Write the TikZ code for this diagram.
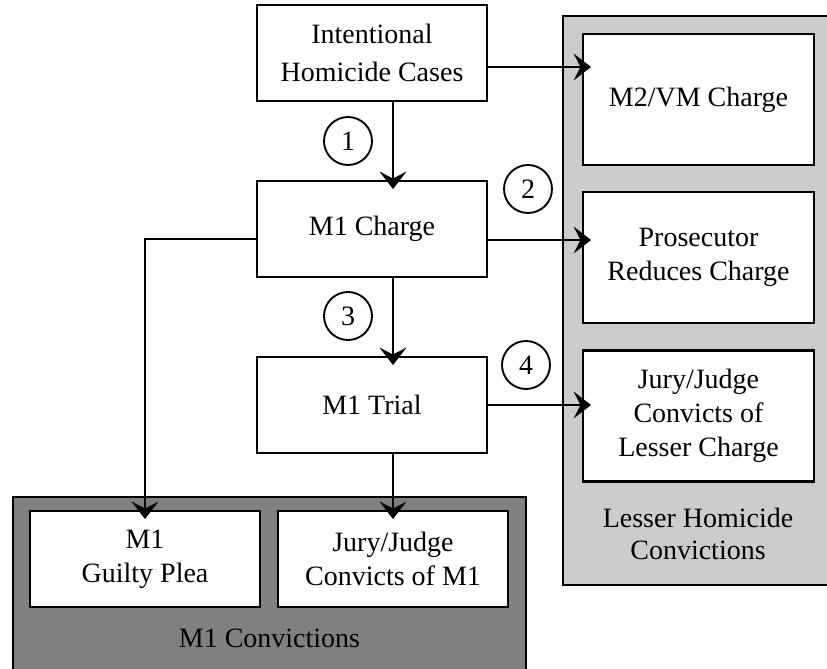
\documentclass[tikz,border=0pt]{standalone}
\usepackage{fontspec}
\setmainfont{LiberationSerif}[Extension=.ttf, UprightFont=*-Regular, BoldFont=*-Bold]
\usetikzlibrary{arrows.meta}
\begin{document}
\begin{tikzpicture}[x=0.75pt,y=-0.75pt,
  box/.style={draw=black, fill=white, line width=1.9pt, align=center,
    font=\fontsize{21}{25.5}\selectfont, inner sep=0pt},
  midbox/.style={box, minimum width=172.5pt, minimum height=72pt},
  sidebox/.style={box, minimum width=173.25pt, minimum height=98.25pt},
  lowbox/.style={box, minimum width=172.5pt, minimum height=72pt},
  numc/.style={draw=black, circle, line width=1.4pt, minimum size=36pt, inner sep=0pt,
    font=\fontsize{21}{25}\selectfont},
  lbl/.style={align=center, font=\fontsize{21}{24.5}\selectfont},
  arr/.style={line width=1.6pt, -{Stealth[length=13pt, width=20pt, inset=5pt]}, shorten >=-7pt},
  ln/.style={line width=1.6pt}
]
\useasboundingbox (0,0) rectangle (827,668);
% panels
\filldraw[fill=black!20, draw=black, line width=1.9pt] (563,16) rectangle (840,585);
\filldraw[fill=black!50, draw=black, line width=1.9pt] (13,497) rectangle (526,690);
% main column
\node[midbox, font=\fontsize{21}{28}\selectfont] (ihc) at (372,53) {Intentional\\Homicide Cases};
\node[midbox] (chg) at (372,229) {M1 Charge};
\node[midbox] (tri) at (372,405) {M1 Trial};
% right column
\node[sidebox] (m2) at (698.5,99.5) {M2/VM Charge};
\node[sidebox] (pro) at (698.5,257.5) {Prosecutor\\Reduces Charge};
\node[sidebox] (jl) at (698.5,416) {Jury/Judge\\Convicts of\\Lesser Charge};
\node[lbl] (lhc) at (698,534) {Lesser Homicide\\Convictions};
% bottom row
\node[lowbox] (gp) at (145,559) {M1\\Guilty Plea};
\node[lowbox] (jm) at (393,559) {Jury/Judge\\Convicts of M1};
\node[lbl] (m1c) at (269.5,638) {M1 Convictions};
% numbers
\node[numc] (n1) at (348,141) {1};
\node[numc] (n2) at (528,189) {2};
\node[numc] (n3) at (348,316) {3};
\node[numc] (n4) at (526,365) {4};
% connectors
\draw[arr] (ihc.east |- 0,67) -- (m2.west |- 0,67);
\draw[arr] (ihc.south -| 393,0) -- (chg.north -| 393,0);
\draw[arr] (chg.east |- 0,240) -- (pro.west |- 0,240);
\draw[arr] (chg.south -| 393,0) -- (tri.north -| 393,0);
\draw[arr] (tri.east |- 0,405) -- (jl.west |- 0,405);
\draw[arr] (chg.west |- 0,239) -| (gp.north);
\draw[arr] (tri.south -| jm.north) -- (jm.north);
\end{tikzpicture}
\end{document}
